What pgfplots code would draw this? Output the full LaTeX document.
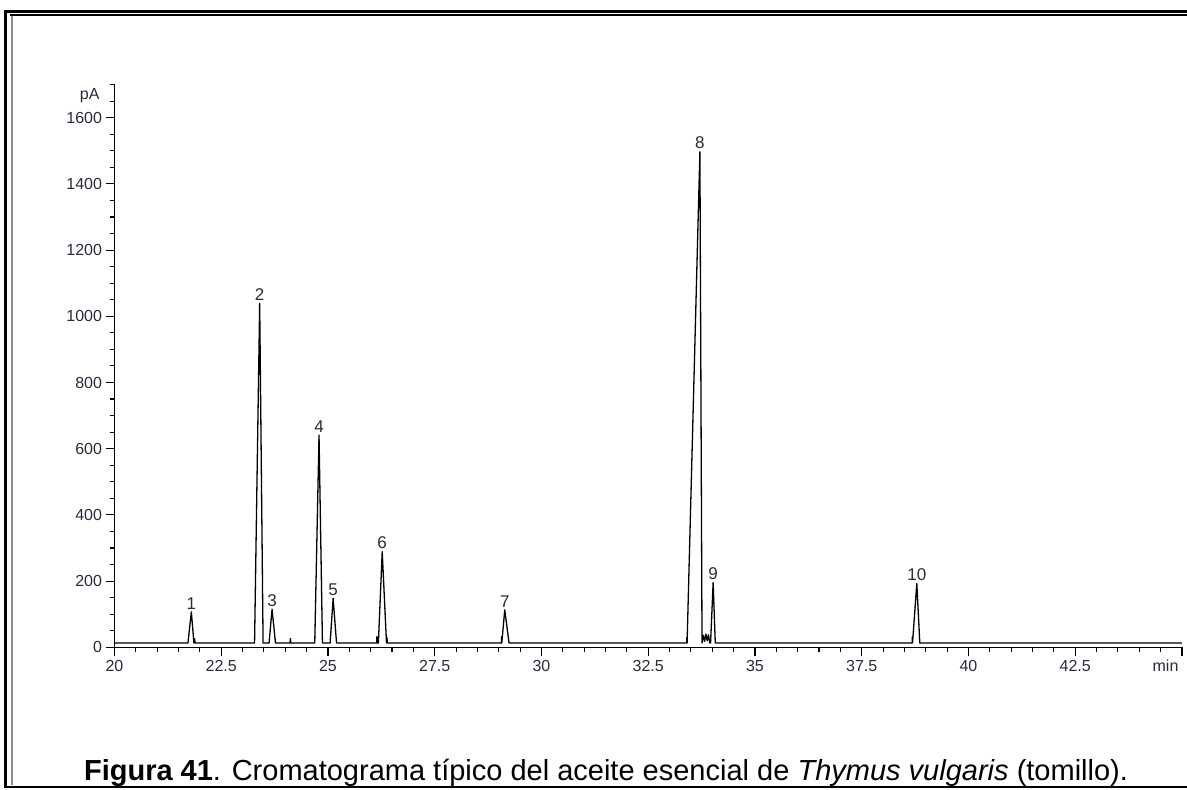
\documentclass[border=0pt]{standalone}
\usepackage{fontspec}
\setmainfont{Liberation Sans}
\usepackage{pgfplots}
\pgfplotsset{compat=1.18}
\usepackage{pgfplotstable}
\definecolor{lbl}{HTML}{2E2838}

\pgfplotstableread{
t y
20.00 13
21.72 13
21.80 107
21.86 13
21.875 26
21.89 13
23.28 13
23.40 1039
23.48 13
23.62 13
23.69 115
23.77 13
24.11 13
24.12 27
24.13 13
24.69 13
24.79 641
24.87 13
25.05 13
25.12 148
25.20 13
26.14 13
26.145 32
26.15 13
26.18 13
26.27 289
26.37 13
26.38 30
26.39 13
29.06 13
29.065 32
29.07 13
29.14 113
29.24 13
33.40 13
33.405 30
33.41 13
33.71 1497
33.76 13
33.79 36
33.82 18
33.85 40
33.88 20
33.91 38
33.94 13
33.96 13
34.02 195
34.07 13
38.68 13
38.685 31
38.69 13
38.79 193
38.86 13
45.00 13
}\trace

\pgfplotstableread{
t y lab
21.80 107 1
23.40 1039 2
23.69 115 3
24.79 641 4
25.12 148 5
26.27 289 6
29.14 113 7
33.71 1497 8
34.02 195 9
38.79 193 10
}\peaks

\begin{document}
\begin{tikzpicture}[x=1pt,y=1pt]
\useasboundingbox (0,0) rectangle (1187,790);
% frame
\draw[line width=2.6pt] (4.5,778.7) -- (1187,778.7);
\draw[line width=2.2pt] (9.5,775) -- (1187,775);
\draw[line width=2.6pt] (5.7,780) -- (5.7,1.8);
\draw[line width=1.7pt, black!45] (11.8,774) -- (11.8,4.5);
\draw[line width=2.4pt] (4.5,3) -- (1187,3);

\begin{axis}[
  scale only axis, width=1067.5pt, height=562.7pt,
  at={(114.5pt,142.7pt)}, anchor=south west,
  xmin=20, xmax=45, ymin=0, ymax=1700,
  axis x line=bottom, axis y line=left,
  axis line style={-, line width=1.2pt, black},
  xtick={20,22.5,...,42.5}, extra x ticks={45}, extra x tick labels={},
  minor xtick={20.5,21,...,44.5},
  ytick={0,200,...,1600}, minor ytick={50,100,...,1700},
  tick align=outside, major tick length=9pt, minor tick length=5pt,
  tick style={line width=1.1pt, black},
  ticklabel style={font=\fontsize{16}{16}\selectfont, text=lbl},
  /pgf/number format/assume math mode=true,
  /pgf/number format/1000 sep={},
  clip=false,
]
\addplot[black, line width=1.3pt, line join=round] table[x=t,y=y] {\trace};
\addplot[draw=none, nodes near coords, point meta=explicit symbolic,
  nodes near coords style={font=\fontsize{17}{17}\selectfont, text=lbl, anchor=south, inner sep=2.5pt}]
  table[x=t,y=y,meta=lab] {\peaks};
\node[anchor=east, font=\fontsize{16}{16}\selectfont, text=lbl, xshift=-11.5pt] at (axis cs:20,1668) {pA};
\node[anchor=base east, font=\fontsize{16}{16}\selectfont, text=lbl, yshift=-24.7pt] at (axis cs:45,0) {min};
\end{axis}

\node[anchor=base, font=\fontsize{29}{30}\selectfont] at (606,9) {\textbf{Figura 41}. Cromatograma típico del aceite esencial de \textit{Thymus vulgaris} (tomillo).};
\end{tikzpicture}
\end{document}
